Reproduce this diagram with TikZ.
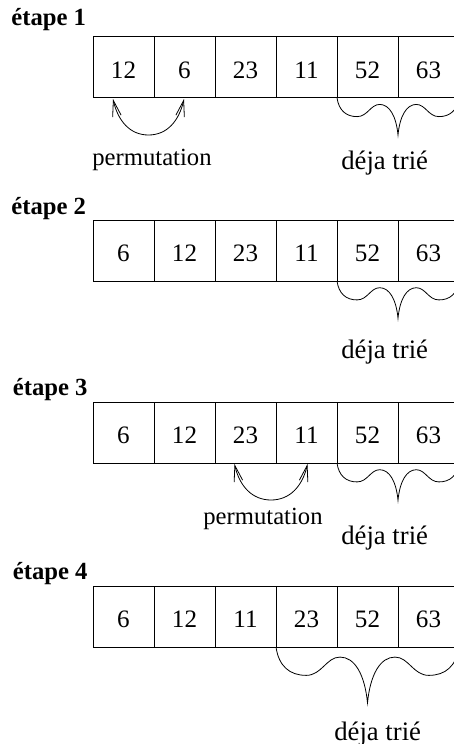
\documentclass[tikz,border=0pt]{standalone}
\usepackage{fontspec}
\setmainfont{Liberation Serif}
\usetikzlibrary{arrows.meta}

% curly brace under the already sorted part: #1 = left end, #2 = half width (pt)
\newcommand\sortedbrace[2]{%
  \begin{scope}[shift={(#1)}, x=#2, y=-#2]
    \draw (0,0) .. controls (0.03,0.21) and (0.15,0.31) .. (0.33,0.31)
          .. controls (0.5,0.31) and (0.55,0.11) .. (0.7,0.11)
          .. controls (0.86,0.11) and (0.97,0.3) .. (1,0.61)
          .. controls (1.03,0.3) and (1.14,0.11) .. (1.3,0.11)
          .. controls (1.45,0.11) and (1.5,0.31) .. (1.67,0.31)
          .. controls (1.85,0.31) and (1.97,0.21) .. (2,0);
  \end{scope}}

\begin{document}
\begin{tikzpicture}[x=0.75pt, y=-0.75pt, line width=0.6pt,
  cell/.style={draw, minimum width=45.75pt, minimum height=45.75pt,
    inner sep=0pt, outer sep=0pt},
  num/.style={anchor=base, inner sep=0pt, font=\fontsize{18.8}{22}\selectfont},
  txt/.style={anchor=base west, inner sep=0pt, font=\fontsize{18.5}{22}\selectfont},
  sortedtxt/.style={anchor=base west, inner sep=0pt, font=\fontsize{20}{24}\selectfont},
  steplabel/.style={anchor=base west, inner sep=0pt,
    font=\fontsize{18.5}{22}\selectfont\bfseries},
  swaparrow/.style={{Straight Barb[length=12pt,width=6.5pt]}-{Straight Barb[length=12pt,width=6.5pt]}},
]
\useasboundingbox (0,0) rectangle (454,744);
\clip (0,0) rectangle (454,744);

% the four arrays
\foreach \r/\top/\vals in {1/36.7/{12,6,23,11,52,63},
                           2/220/{6,12,23,11,52,63},
                           3/402/{6,12,23,11,52,63},
                           4/586/{6,12,11,23,52,63}}{
  \foreach \v [count=\c] in \vals {
    \node[cell] (r\r-\c) at (93+61*\c-30.5, \top+30.5) {};
    \path (r\r-\c.center) ++(0,11.1) node[num] (n\r-\c) {\v};
  }
}

% step titles
\node[steplabel] (s1) at (11,25)    {étape 1};
\node[steplabel] (s2) at (11,214)   {étape 2};
\node[steplabel] (s3) at (12.5,395) {étape 3};
\node[steplabel] (s4) at (12.5,579) {étape 4};

% swaps
\coordinate (a1) at (113,99);
\coordinate (b1) at (184,99);
\draw[swaparrow] (a1) .. controls (118,121) and (130,135) .. (148.5,135)
                      .. controls (167,135) and (179,121) .. (b1);
\node[txt] (p1) at (92,165) {permutation};

\coordinate (a3) at (234.5,464);
\coordinate (b3) at (307.5,464);
\draw[swaparrow] (a3) .. controls (239.5,486) and (252,500) .. (271,500)
                      .. controls (290,500) and (302.5,486) .. (b3);
\node[txt] (p3) at (203,524) {permutation};

% sorted parts
\sortedbrace{r1-5.south west}{45.75pt}
\sortedbrace{r2-5.south west}{45.75pt}
\sortedbrace{r3-5.south west}{45.75pt}
\sortedbrace{r4-4.south west}{68.625pt}

\node[sortedtxt] (t1) at (341,169) {déja trié};
\node[sortedtxt] (t2) at (341,358) {déja trié};
\node[sortedtxt] (t3) at (341,544) {déja trié};
\node[sortedtxt] (t4) at (334,740) {déja trié};
\end{tikzpicture}
\end{document}
